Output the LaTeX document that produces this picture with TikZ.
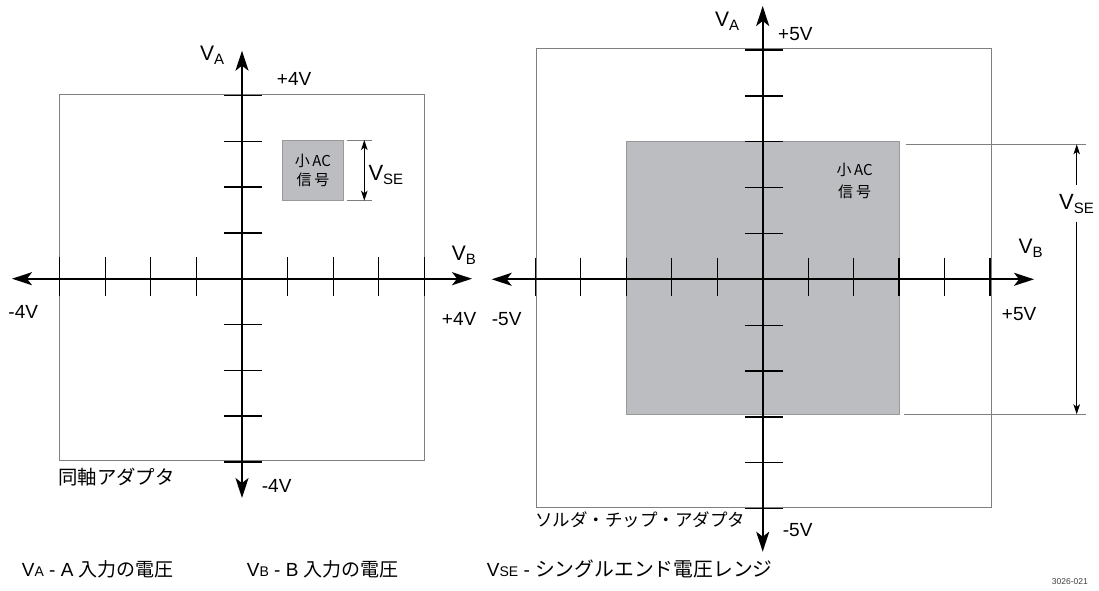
\documentclass[tikz,border=0pt]{standalone}
\usepackage{fontspec}
\usepackage{graphicx}
\setmainfont{Liberation Sans}
\newfontfamily\jp{Noto Sans CJK JP}
\usetikzlibrary{arrows.meta,calc}
\newcommand{\fsz}[1]{\fontsize{#1}{#1}\selectfont}
\newcommand{\VL}[1]{\fsz{21}V\raisebox{-4pt}{\fsz{15}#1}}
\newcommand{\VLg}[1]{\fsz{19}V{\fsz{14}#1}}
\definecolor{sigfill}{HTML}{BCBDC0}
\definecolor{boxline}{HTML}{7F7F7F}
\tikzset{
  axisline/.style={line width=1.7pt, black, {Stealth[length=20pt,width=13pt,inset=5pt]}-{Stealth[length=20pt,width=13pt,inset=5pt]}},
  tickline/.style={line width=1.3pt, black},
  framebox/.style={draw=boxline, line width=1pt, inner sep=0pt, minimum width=#1},
  sigbox/.style={draw=boxline!80, fill=sigfill, line width=0.8pt, inner sep=0pt},
  extline/.style={draw=boxline, line width=0.9pt},
  dimarrow/.style={line width=1.2pt, black, -{Stealth[length=10pt,width=6.5pt,inset=2.5pt]}},
  lab/.style={inner sep=0pt, anchor=base west, font=\fsz{19}},
  jlab/.style={inner sep=0pt, anchor=west},
}
\begin{document}
\begin{tikzpicture}[x=1pt,y=-1pt]
\useasboundingbox[fill=white] (0,0) rectangle (1099,590);

% ================= LEFT DIAGRAM =================
\node[framebox=364.7pt, minimum height=366.4pt] (Lbox) at (241.65,277.5) {};
\node[sigbox, minimum width=60.6pt, minimum height=60.7pt, align=center,
      font=\jp\fontsize{15}{18.3}\selectfont] (sig1) at (313,170.35) {小\,AC\\信\hspace{3pt}号};

\coordinate (LO)  at (242,278.7);
\coordinate (LxL) at (12,278.7);
\coordinate (LxR) at (472,278.7);
\coordinate (LyT) at (242,50.7);
\coordinate (LyB) at (242,498);
\draw[axisline] (LxL) -- (LxR);
\draw[axisline] (LyB) -- (LyT);
\foreach \k in {-4,-3,-2,-1,1,2,3,4}{
  \draw[tickline] ($(LO)+(\k*45.6,-21.3)$) -- ($(LO)+(\k*45.6,17.3)$);
  \draw[tickline] ($(LO)+(-18,\k*45.8)$) -- ($(LO)+(20.3,\k*45.8)$);
}

% VSE dimension (left)
\coordinate (Le1a) at (346.7,140);   \coordinate (Le1b) at (372.3,140);
\coordinate (Le2a) at (346.7,200.7); \coordinate (Le2b) at (372.3,200.7);
\draw[extline] (Le1a) -- (Le1b);
\draw[extline] (Le2a) -- (Le2b);
\coordinate (LdT) at (364.3,140);
\coordinate (LdB) at (364.3,200.7);
\draw[line width=1.2pt, black, {Stealth[length=10pt,width=6.5pt,inset=2.5pt]}-{Stealth[length=10pt,width=6.5pt,inset=2.5pt]}] (LdT) -- (LdB);
\node[inner sep=0pt, anchor=base west] (LVSE) at (368.3,180.7) {\fsz{22}V\raisebox{-4pt}{\fsz{15}SE}};

% labels (left)
\node[inner sep=0pt, anchor=base west] (LVA) at (200,60) {\VL{A}};
\node[inner sep=0pt, anchor=base west] (LVB) at (451.7,260) {\VL{B}};
\node[lab] (Lp4t) at (276.7,85) {+4V};
\node[lab] (Lm4l) at (8.3,318.3) {-4V};
\node[lab] (Lp4r) at (441.7,325) {+4V};
\node[lab] (Lm4b) at (261.7,492.7) {-4V};
\node[jlab, font=\jp\fsz{19.4}] (Lname) at (58,476.7) {同軸アダプタ};

% ================= RIGHT DIAGRAM =================
\node[framebox=454.7pt, minimum height=458.6pt] (Rbox) at (763.65,278) {};
\node[sigbox, minimum width=273pt, minimum height=272.7pt] (sig2) at (762.8,277.65) {};
\node[inner sep=0pt, align=center, font=\jp\fontsize{15}{21.7}\selectfont] (sig2t) at (854.7,181) {小\,AC\\信\hspace{3pt}号};

\coordinate (RO)  at (762.7,279.3);
\coordinate (RxL) at (491.7,279.3);
\coordinate (RxR) at (1034,279.3);
\coordinate (RyT) at (762.7,6);
\coordinate (RyB) at (762.7,551.7);
\draw[axisline] (RxL) -- (RxR);
\draw[axisline] (RyB) -- (RyT);
\foreach \k in {-5,-4,-3,-2,-1,1,2,3,4,5}{
  \draw[tickline] ($(RO)+(\k*45.47,-21.6)$) -- ($(RO)+(\k*45.47,16.7)$);
  \draw[tickline] ($(RO)+(-17.7,\k*45.86)$) -- ($(RO)+(20.6,\k*45.86)$);
}

% VSE dimension (right)
\coordinate (Re1a) at (905.7,144.3); \coordinate (Re1b) at (1086,144.3);
\coordinate (Re2a) at (904,414.3);   \coordinate (Re2b) at (1086,414.3);
\draw[extline] (Re1a) -- (Re1b);
\draw[extline] (Re2a) -- (Re2b);
\coordinate (RdT) at (1076.7,144.3);
\coordinate (RdB) at (1076.7,414.3);
\coordinate (RgT) at (1076.7,185);
\coordinate (RgB) at (1076.7,221.7);
\draw[dimarrow] (RgT) -- (RdT);
\draw[dimarrow] (RgB) -- (RdB);
\node[inner sep=0pt, anchor=base west] (RVSE) at (1059,209.3) {\fsz{22}V\raisebox{-4pt}{\fsz{15}SE}};

% labels (right)
\node[inner sep=0pt, anchor=base west] (RVA) at (715,26.7) {\VL{A}};
\node[inner sep=0pt, anchor=base west] (RVB) at (1018.3,253.3) {\VL{B}};
\node[lab] (Rp5t) at (778,40) {+5V};
\node[lab] (Rm5l) at (491.7,325.7) {-5V};
\node[lab] (Rp5r) at (1001.7,320.7) {+5V};
\node[lab] (Rm5b) at (782.7,536.7) {-5V};
\node[jlab, font=\jp\fsz{17.5}] (Rname) at (535,520) {ソルダ・チップ・アダプタ};

% ================= LEGEND =================
\node[inner sep=0pt, anchor=base west] (legA) at (21.7,576.7) {\VLg{A} - A {\jp\fsz{19}入力の電圧}};
\node[inner sep=0pt, anchor=base west] (legB) at (246.7,576.7) {\VLg{B} - B {\jp\fsz{19}入力の電圧}};
\node[inner sep=0pt, anchor=base west] (legS) at (486.7,576.7) {\VLg{SE} - {\jp\fsz{19.8}シングルエンド電圧レンジ}};
\node[inner sep=0pt, anchor=base west, text=black!75, font=\fsz{8.5}] (fig) at (1051.7,584.5) {3026-021};
\end{tikzpicture}
\end{document}
